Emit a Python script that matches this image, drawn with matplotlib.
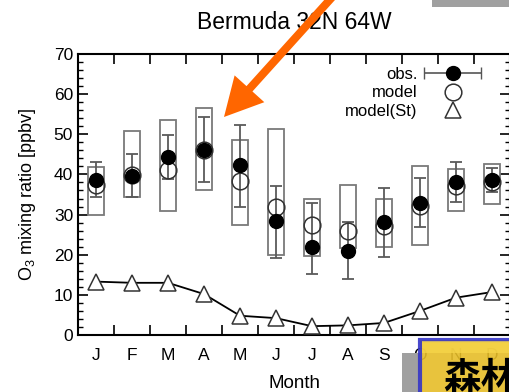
import numpy as np
import matplotlib
matplotlib.use("Agg")
import matplotlib.pyplot as plt
from matplotlib.patches import Rectangle, FancyArrow
from matplotlib.transforms import IdentityTransform
from matplotlib.legend_handler import HandlerErrorbar
from matplotlib.container import ErrorbarContainer

plt.rcParams['font.family'] = ['Liberation Sans', 'DejaVu Sans']
plt.rcParams['mathtext.fontset'] = 'custom'
plt.rcParams['mathtext.rm'] = 'Liberation Sans'

months = ['J', 'F', 'M', 'A', 'M', 'J', 'J', 'A', 'S', 'O', 'N', 'D']

# observations (mean, error bar low/high)
obs = [38.6, 39.5, 44.3, 46.1, 42.4, 28.3, 22.0, 21.0, 28.2, 33.0, 38.2, 38.6]
obs_lo = [34.4, 34.4, 38.9, 38.2, 32.0, 19.1, 15.2, 14.0, 19.5, 27.0, 33.2, 35.7]
obs_hi = [43.2, 45.1, 49.9, 54.3, 52.4, 37.2, 33.0, 28.2, 36.6, 39.2, 43.2, 41.7]
# obs range boxes
box_lo = [29.9, 34.3, 30.8, 36.0, 27.4, 20.0, 19.7, 21.7, 22.0, 22.4, 30.8, 32.7]
box_hi = [41.8, 50.7, 53.6, 56.6, 48.6, 51.3, 33.9, 37.4, 33.9, 42.1, 41.4, 42.6]
# model
model = [37.4, 39.8, 41.1, 46.0, 38.4, 31.8, 27.4, 25.8, 27.2, 32.2, 37.0, 38.0]
model_st = [13.3, 13.0, 13.0, 10.2, 4.8, 4.2, 2.2, 2.4, 3.0, 6.0, 9.3, 10.7]

x = np.arange(12) + 0.5

fig = plt.figure(figsize=(5.09, 3.92), dpi=100)
ax = fig.add_axes([78 / 509, 57 / 392, 432 / 509, 281 / 392])

for xi, lo, hi in zip(x, box_lo, box_hi):
    ax.add_patch(Rectangle((xi - 0.21, lo), 0.42, hi - lo, fill=False,
                           edgecolor='#7a7a7a', lw=1.3, zorder=2))

obs = np.array(obs)
yerr = [obs - np.array(obs_lo), np.array(obs_hi) - obs]
ax.errorbar(x, obs, yerr=yerr, fmt='none', ecolor='#5a5a5a', elinewidth=1.3,
            capsize=4, capthick=1.3, zorder=3)
ax.plot(x, model_st, color='black', lw=1.3, zorder=3)
ax.plot(x, model_st, ls='none', marker='^', ms=12, mfc='white', mec='#333333',
        mew=1.1, zorder=4)
ax.plot(x, model, ls='none', marker='o', ms=12, mfc='none', mec='#333333',
        mew=1.1, zorder=5)
ax.plot(x, obs, ls='none', marker='o', ms=10, color='black', zorder=6)

# legend handles
h_obs = ax.errorbar(np.nan, np.nan, xerr=1, fmt='o', color='black', ms=10,
                    ecolor='#555555', elinewidth=1.2, capsize=4)
h_mod, = ax.plot(np.nan, np.nan, ls='none', marker='o', ms=12, mfc='none',
                 mec='#333333', mew=1.1)
h_st, = ax.plot(np.nan, np.nan, ls='none', marker='^', ms=12, mfc='white',
                mec='#333333', mew=1.1)
leg = ax.legend([h_obs, h_mod, h_st], ['obs.', 'model', 'model(St)'],
                loc='upper right', bbox_to_anchor=(0.958, 0.995),
                markerfirst=False, frameon=False, fontsize=12,
                handlelength=3.3, handletextpad=0.45, labelspacing=0.2,
                borderpad=0.2,
                handler_map={ErrorbarContainer: HandlerErrorbar(xerr_size=1.7)})
for t in leg.get_texts():
    t.set_ha('right')

ax.set_xlim(0, 12)
ax.set_ylim(0, 70)
ax.set_xticks(np.arange(1, 12))
ax.set_xticklabels([])
ax.set_xticks(x, minor=True)
ax.set_xticklabels(months, minor=True)
ax.tick_params(axis='x', which='major', direction='in', length=7, width=1.2,
               top=True, bottom=True)
ax.tick_params(axis='x', which='minor', length=0, pad=9, labelsize=12.5)
ax.set_yticks(np.arange(0, 71, 10))
ax.set_yticks(np.arange(0, 71, 2), minor=True)
ax.tick_params(axis='y', which='major', direction='in', length=7, width=1.2,
               left=True, right=True, labelsize=12.5)
ax.tick_params(axis='y', which='minor', direction='in', length=3.5, width=1,
               left=True, right=True)
for s in ax.spines.values():
    s.set_linewidth(1.5)

ax.set_xlabel('Month', fontsize=13.5, labelpad=9)
ax.set_ylabel('O$_\\mathregular{3}$ mixing ratio [ppbv]', fontsize=13,
              labelpad=11)
ax.set_title('Bermuda 32N 64W', fontsize=16.5, pad=18)

# slide overlays
px = IdentityTransform()
H = 392
fig.add_artist(Rectangle((432, H - 7), 90, 10, transform=px,
                         facecolor='#a0a0a0', edgecolor='none', zorder=10))
fig.add_artist(FancyArrow(335, H + 6, 224 - 335, (H - 117) - (H + 6),
                          width=8, head_width=40, head_length=38,
                          length_includes_head=True, transform=px,
                          facecolor='#ff6600', edgecolor='none', zorder=11))
fig.add_artist(Rectangle((402, -10), 20, H - 353 + 10, transform=px,
                         facecolor='#a0a0a0', edgecolor='none', zorder=10))
fig.add_artist(Rectangle((420, -10), 100, H - 340 + 10, transform=px,
                         facecolor='#e6bd28', edgecolor='#3535c8', lw=3,
                         alpha=0.9, zorder=11))
fig.add_artist(Rectangle((422, H - 353), 95, 12, transform=px,
                         facecolor='#f7d64a', edgecolor='none', alpha=0.75,
                         zorder=11))
fig.text(443 / 509, -6 / 392, '森林', fontsize=27, fontweight='bold',
         family=['Noto Sans CJK JP', 'DejaVu Sans'], ha='left', va='bottom',
         zorder=12)

fig.savefig('out.png', dpi=100)
